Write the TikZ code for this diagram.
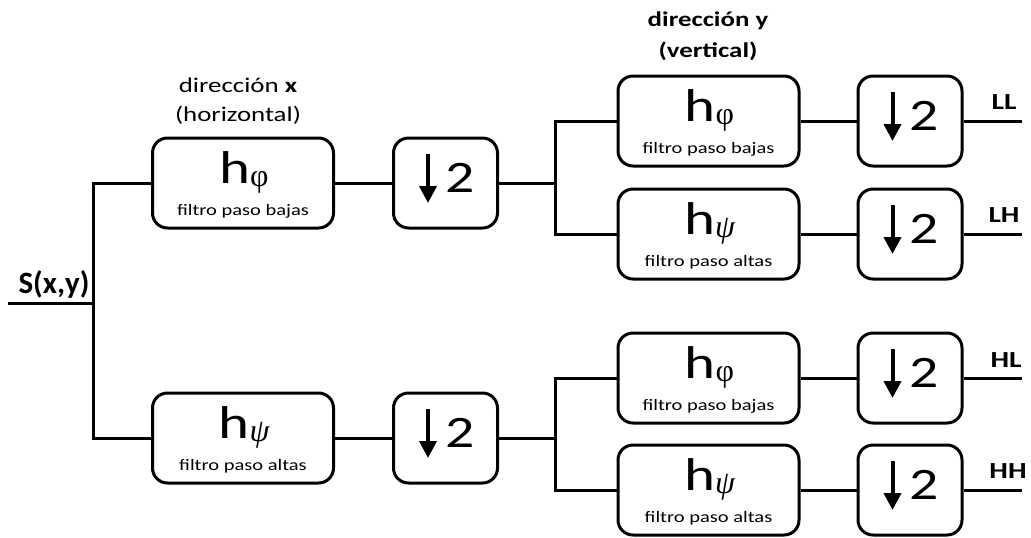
\documentclass[tikz,border=0pt]{standalone}
\usepackage{fontspec}
\setmainfont[FakeStretch=1.28]{Carlito}
\newfontfamily\plainfont{Carlito}
\newfontfamily\greekfont{Liberation Serif}
\usetikzlibrary{arrows.meta,calc}
\newcommand\mkfilt[5]{%
  \node[filt] (#1) at (#2,#3) {};
  \node[big] (#1h) at ($(#1.north)+(1,47)$) {h\raisebox{-2.5pt}{\greekfont\fontsize{32}{32}\selectfont #4}};
  \node[small] (#1t) at ($(#1.north)+(0,79)$) {#5};
}
\newcommand\mkdown[3]{%
  \node[dwn] (#1) at (#2,#3) {};
  \node[two] (#1n) at ($(#1.center)+(14.5,-5)$) {2};
  \coordinate (#1a) at ($(#1.center)+(-17.5,-29)$);
  \coordinate (#1b) at ($(#1.center)+(-17.5,20)$);
  \draw[dar] (#1a) -- (#1b);
}
\begin{document}
\begin{tikzpicture}[x=1pt,y=-1pt,
  box/.style={draw, line width=3pt, rounded corners=15pt, minimum height=90pt, inner sep=0pt},
  filt/.style={box, minimum width=181pt},
  dwn/.style={box, minimum width=104pt},
  wire/.style={line width=3pt},
  big/.style={font=\fontsize{46}{46}\selectfont, anchor=base, inner sep=0pt},
  small/.style={font=\fontsize{16}{18}\selectfont, anchor=base, inner sep=0pt},
  two/.style={font=\fontsize{45}{45}\selectfont, inner sep=0pt},
  dar/.style={line width=4pt, -{Triangle[width=17pt,length=17pt]}},
  outlbl/.style={font=\fontsize{23}{23}\selectfont\bfseries, anchor=base, inner sep=0pt},
  title/.style={font=\fontsize{21}{24}\selectfont, anchor=base, inner sep=0pt}
]
\useasboundingbox (0,0) rectangle (1031,538);

% titles
\node[title] (tx1) at (238,92) {dirección \textbf{x}};
\node[title] (tx2) at (238,121) {(horizontal)};
\node[title] (ty1) at (708,27) {\bfseries dirección y};
\node[title] (ty2) at (708,57) {\bfseries (vertical)};

% input
\node[font=\plainfont\fontsize{31}{31}\selectfont\bfseries, anchor=base, inner sep=0pt] (sl) at (54,293) {S(x,y)};
\coordinate (s) at (8,303);
\coordinate (j1) at (93,303);

% first stage
\mkfilt{f1}{243}{183}{φ}{filtro paso bajas}
\mkfilt{f2}{243}{438}{\itshape ψ}{filtro paso altas}
\mkdown{d1}{445.5}{183}
\mkdown{d2}{445.5}{438}

% second stage
\mkfilt{f3}{708.5}{121}{φ}{filtro paso bajas}
\mkfilt{f4}{708.5}{234}{\itshape ψ}{filtro paso altas}
\mkfilt{f5}{708.5}{378}{φ}{filtro paso bajas}
\mkfilt{f6}{708.5}{490}{\itshape ψ}{filtro paso altas}
\mkdown{d3}{910}{121}
\mkdown{d4}{910}{234}
\mkdown{d5}{910}{378}
\mkdown{d6}{910}{490}

\coordinate (j2) at (555,183);
\coordinate (j3) at (555,438);

% outputs
\coordinate (o3) at (1022,121);
\coordinate (o4) at (1022,234);
\coordinate (o5) at (1022,378);
\coordinate (o6) at (1022,490);
\node[outlbl] (l3) at (1004,109) {LL};
\node[outlbl] (l4) at (1004,222) {LH};
\node[outlbl] (l5) at (1006,367) {HL};
\node[outlbl] (l6) at (1008,478) {HH};

% wires
\draw[wire] (s) -- (j1);
\draw[wire] (f1.west) -| (j1) |- (f2.west);
\draw[wire] (f1.east) -- (d1.west);
\draw[wire] (f2.east) -- (d2.west);
\draw[wire] (d1.east) -- (j2);
\draw[wire] (d2.east) -- (j3);
\draw[wire] (f3.west) -| (j2) |- (f4.west);
\draw[wire] (f5.west) -| (j3) |- (f6.west);
\draw[wire] (f3.east) -- (d3.west);
\draw[wire] (f4.east) -- (d4.west);
\draw[wire] (f5.east) -- (d5.west);
\draw[wire] (f6.east) -- (d6.west);
\draw[wire] (d3.east) -- (o3);
\draw[wire] (d4.east) -- (o4);
\draw[wire] (d5.east) -- (o5);
\draw[wire] (d6.east) -- (o6);
\end{tikzpicture}
\end{document}
